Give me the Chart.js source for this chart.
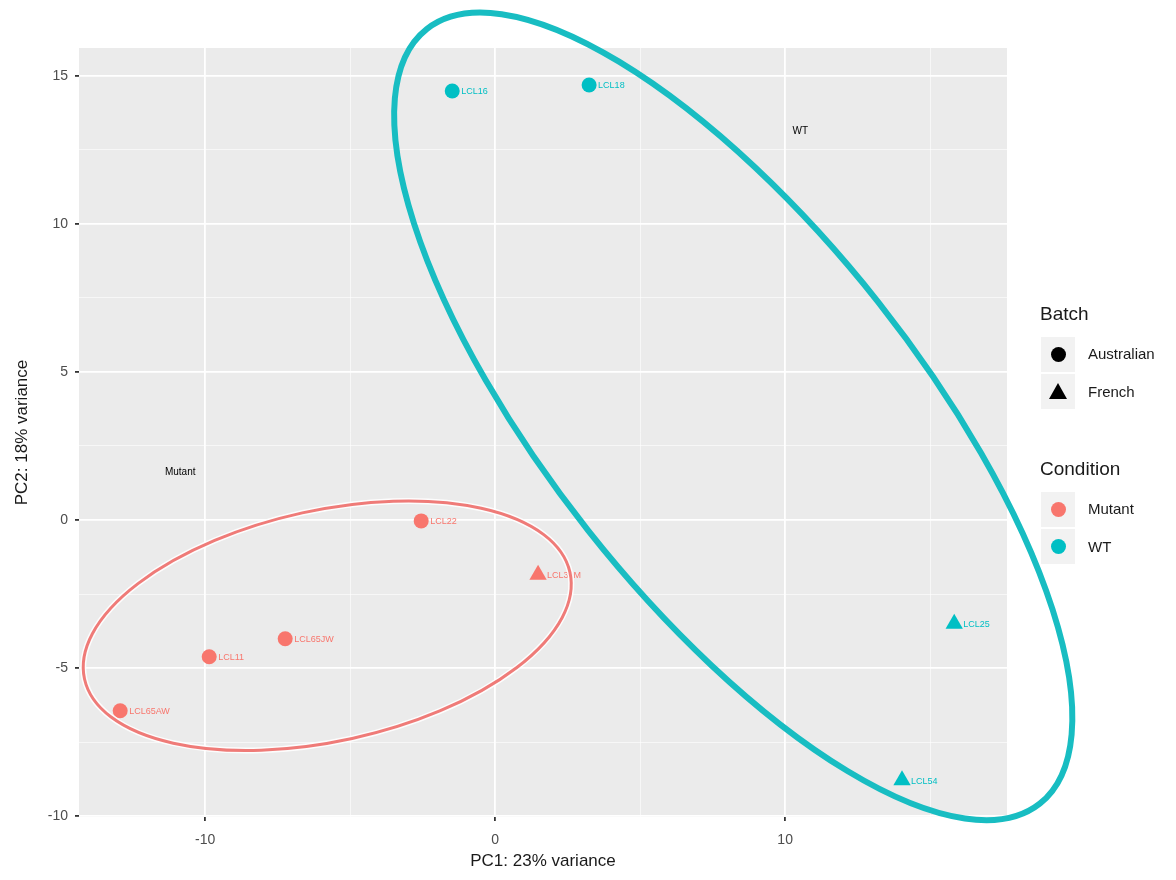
<!DOCTYPE html>
<html>
<head>
<meta charset="utf-8">
<script src="https://cdn.jsdelivr.net/npm/chart.js@4.4.0/dist/chart.umd.min.js"></script>
<style>
  body { margin: 0; background: #fff; font-family: "Liberation Sans", Arial, sans-serif; }
  #wrap { position: relative; width: 1176px; height: 880px; }
  .lg-title { position: absolute; left: 1040px; font-size: 19px; color: #1a1a1a; }
  .lg-key { position: absolute; left: 1041px; width: 34px; height: 35px; background: #f2f2f2; }
  .lg-dot { position: absolute; left: 10px; top: 10px; width: 15px; height: 15px; border-radius: 50%; }
  .lg-tri { position: absolute; left: 8px; top: 9px; width: 18px; height: 16px; clip-path: polygon(50% 0, 100% 100%, 0 100%); background: #000; }
  .lg-label { position: absolute; left: 1088px; font-size: 15px; color: #1a1a1a; }
</style>
</head>
<body>
<div id="wrap">
  <canvas id="pca"></canvas>
  <div class="lg-title" style="top:303px">Batch</div>
  <div class="lg-key" style="top:337px"><div class="lg-dot" style="background:#000"></div></div>
  <div class="lg-label" style="top:345px">Australian</div>
  <div class="lg-key" style="top:374px"><div class="lg-tri"></div></div>
  <div class="lg-label" style="top:383px">French</div>
  <div class="lg-title" style="top:458px">Condition</div>
  <div class="lg-key" style="top:492px"><div class="lg-dot" style="background:#F8766D"></div></div>
  <div class="lg-label" style="top:500px">Mutant</div>
  <div class="lg-key" style="top:529px"><div class="lg-dot" style="background:#00BFC4"></div></div>
  <div class="lg-label" style="top:538px">WT</div>
</div>
<script>
// données PCA
const samples = ['LCL16', 'LCL18', 'LCL22', 'LCL39M', 'LCL65JW', 'LCL11', 'LCL65AW', 'LCL25', 'LCL54'];
const pc1 = [-1.48, 3.24, -2.55, 1.48, -7.24, -9.86, -12.93, 15.83, 14.03];
const pc2 = [14.49, 14.69, -0.03, -1.85, -4.01, -4.62, -6.44, -3.50, -8.79];
const condition = ['WT', 'WT', 'Mutant', 'Mutant', 'Mutant', 'Mutant', 'Mutant', 'WT', 'WT'];
const batch = ['Australian', 'Australian', 'Australian', 'French', 'Australian', 'Australian', 'Australian', 'French', 'French'];

// annotations texte (Mutant / WT)
const noteText = ['WT', 'Mutant'];
const noteX = [10.52, -10.86];
const noteY = [13.14, 1.62];

// ellipses : centre, bout du grand axe, bout du petit axe (unités des axes)
const ellipseCenter = [[8.21, 3.50], [-5.79, -3.57]];
const ellipseMajor = [[18.78, -9.58], [2.58, -1.77]];
const ellipseMinor = [[13.21, 7.36], [-4.93, -7.38]];
const ellipseGroup = ['WT', 'Mutant'];

const xTicks = [-10, 0, 10];
const yTicks = [-10, -5, 0, 5, 10, 15];

const colors = { Mutant: '#F8766D', WT: '#00BFC4' };

const panelBg = {
  id: 'panelBg',
  beforeDraw(chart) {
    const a = chart.chartArea, ctx = chart.ctx;
    ctx.save();
    ctx.fillStyle = '#EBEBEB';
    ctx.fillRect(a.left, a.top, a.right - a.left, a.bottom - a.top);
    ctx.restore();
  }
};

const pointLabels = {
  id: 'pointLabels',
  afterDatasetsDraw(chart) {
    const ctx = chart.ctx;
    const meta = chart.getDatasetMeta(0);
    ctx.save();
    ctx.font = '9px "Liberation Sans", Arial, sans-serif';
    ctx.textBaseline = 'middle';
    ctx.textAlign = 'left';
    meta.data.forEach((el, i) => {
      ctx.fillStyle = colors[condition[i]];
      ctx.fillText(samples[i], el.x + 9, el.y + 1);
    });
    ctx.fillStyle = '#000';
    ctx.font = '10px "Liberation Sans", Arial, sans-serif';
    ctx.textAlign = 'center';
    const xs = chart.scales.x, ys = chart.scales.y;
    noteText.forEach((t, i) => {
      ctx.fillText(t, xs.getPixelForValue(noteX[i]), ys.getPixelForValue(noteY[i]));
    });
    ctx.restore();
  }
};

const ellipses = {
  id: 'ellipses',
  afterDraw(chart) {
    const ctx = chart.ctx;
    const xs = chart.scales.x, ys = chart.scales.y;
    const px = p => [xs.getPixelForValue(p[0]), ys.getPixelForValue(p[1])];
    ellipseCenter.forEach((c0, i) => {
      const c = px(c0), a = px(ellipseMajor[i]), b = px(ellipseMinor[i]);
      ctx.save();
      ctx.save();
      ctx.transform(a[0] - c[0], a[1] - c[1], b[0] - c[0], b[1] - c[1], c[0], c[1]);
      ctx.beginPath();
      ctx.arc(0, 0, 1, 0, 2 * Math.PI);
      ctx.restore();
      if (ellipseGroup[i] === 'WT') {
        ctx.strokeStyle = '#18BDC2';
        ctx.lineWidth = 6;
        ctx.stroke();
      } else {
        ctx.strokeStyle = 'rgba(255,255,255,0.9)';
        ctx.lineWidth = 6;
        ctx.stroke();
        ctx.strokeStyle = '#EF7B78';
        ctx.lineWidth = 3;
        ctx.stroke();
      }
      ctx.restore();
    });
  }
};

function isMajor(v, list) {
  return list.some(t => Math.abs(t - v) < 1e-6);
}

const ctx = document.getElementById('pca').getContext('2d');
new Chart(ctx, {
  type: 'scatter',
  data: {
    datasets: [{
      data: pc1.map((x, i) => ({ x: x, y: pc2[i] })),
      backgroundColor: condition.map(c => colors[c]),
      borderColor: condition.map(c => colors[c]),
      borderWidth: 0,
      pointStyle: batch.map(b => b === 'French' ? 'triangle' : 'circle'),
      pointRadius: batch.map(b => b === 'French' ? 10 : 7.5),
      pointHoverRadius: batch.map(b => b === 'French' ? 10 : 7.5)
    }]
  },
  options: {
    responsive: true,
    maintainAspectRatio: false,
    animation: false,
    layout: { padding: { left: 0, top: 48, right: 169, bottom: 0 } },
    plugins: {
      legend: { display: false },
      tooltip: { enabled: false }
    },
    scales: {
      x: {
        type: 'linear',
        min: -14.35,
        max: 17.65,
        border: { display: false },
        afterFit: s => { s.height = 63; },
        grid: {
          color: c => isMajor(c.tick.value, xTicks) ? '#FFFFFF' : 'rgba(255,255,255,0.75)',
          lineWidth: c => isMajor(c.tick.value, xTicks) ? 1.8 : 0.8,
          tickColor: c => isMajor(c.tick.value, xTicks) ? '#333333' : 'rgba(0,0,0,0)',
          tickLength: 4
        },
        ticks: {
          stepSize: 5,
          includeBounds: false,
          autoSkip: false,
          maxRotation: 0,
          padding: 11,
          color: '#4D4D4D',
          font: { family: '"Liberation Sans", Arial, sans-serif', size: 14 },
          callback: v => isMajor(v, xTicks) ? v : ''
        },
        title: {
          display: true,
          text: 'PC1: 23% variance',
          color: '#1a1a1a',
          font: { family: '"Liberation Sans", Arial, sans-serif', size: 17 },
          padding: { top: 0, bottom: 8 }
        }
      },
      y: {
        type: 'linear',
        min: -10.03,
        max: 15.94,
        border: { display: false },
        afterFit: s => { s.width = 79; },
        grid: {
          color: c => isMajor(c.tick.value, yTicks) ? '#FFFFFF' : 'rgba(255,255,255,0.75)',
          lineWidth: c => isMajor(c.tick.value, yTicks) ? 1.8 : 0.8,
          tickColor: c => isMajor(c.tick.value, yTicks) ? '#333333' : 'rgba(0,0,0,0)',
          tickLength: 4
        },
        ticks: {
          stepSize: 2.5,
          includeBounds: false,
          autoSkip: false,
          padding: 7,
          color: '#4D4D4D',
          font: { family: '"Liberation Sans", Arial, sans-serif', size: 14 },
          callback: v => isMajor(v, yTicks) ? v : ''
        },
        title: {
          display: true,
          text: 'PC2: 18% variance',
          color: '#1a1a1a',
          font: { family: '"Liberation Sans", Arial, sans-serif', size: 17 },
          padding: { top: 12, bottom: 4 }
        }
      }
    }
  },
  plugins: [panelBg, pointLabels, ellipses]
});
</script>
</body>
</html>
